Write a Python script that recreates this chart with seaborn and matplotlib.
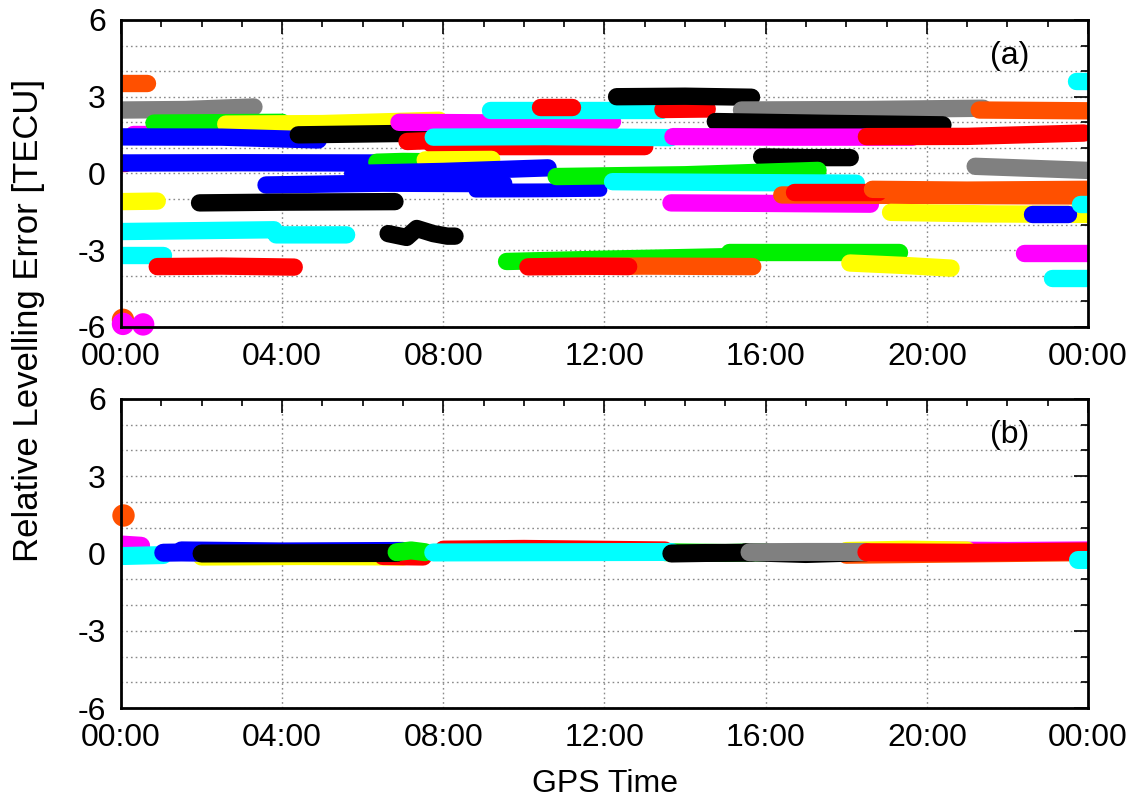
import matplotlib
matplotlib.use("Agg")
import matplotlib.pyplot as plt
import numpy as np
import pandas as pd
import seaborn as sns
from matplotlib.ticker import MultipleLocator, FuncFormatter

# ---------------- data ----------------
# colour names of the satellite arcs, panel (a)
a_sat = ['orange', 'gray', 'magenta', 'green', 'yellow', 'blue', 'black',
         'red', 'magenta', 'cyan', 'cyan', 'red', 'red', 'blue', 'green',
         'yellow', 'blue', 'blue', 'yellow', 'black', 'cyan', 'cyan', 'red',
         'black', 'green', 'green', 'orange', 'red', 'yellow', 'magenta',
         'cyan', 'black', 'red', 'gray', 'orange', 'black', 'magenta', 'red',
         'black', 'gray', 'green', 'cyan', 'magenta', 'orange', 'red',
         'orange', 'yellow', 'blue', 'cyan', 'cyan']
# time [h] of each arc
a_time = [[0.0, 0.65], [0.0, 1.6, 3.3], [0.3, 4.5], [0.82, 4.0], [2.6, 5.0, 7.9],
          [0.0, 2.5, 4.9], [4.4, 7.75], [7.1, 7.6, 7.8, 13.0], [6.9, 10.0, 12.2],
          [7.75, 10.5, 13.65], [9.15, 13.4], [13.45, 14.55], [0.0, 0.1],
          [0.0, 3.0, 6.35], [6.35, 7.0, 7.55], [7.55, 9.2], [5.75, 8.0, 10.6],
          [3.6, 6.5, 9.5], [0.0, 0.9], [1.95, 4.0, 6.8], [0.0, 3.8, 3.85, 5.6],
          [0.0, 1.05], [0.9, 2.5, 4.3], [6.63, 7.09, 7.34, 7.75, 8.1, 8.29],
          [9.57, 12.0, 15.1], [15.1, 17.0, 19.3], [10.5, 13.0, 15.68],
          [10.1, 11.5, 12.6], [18.09, 19.5, 20.6], [22.4, 24.0], [23.1, 24.0],
          [12.3, 14.0, 15.65], [10.4, 11.2], [15.4, 18.5, 21.4], [21.3, 24.0],
          [14.75, 17.5, 20.4], [13.7, 16.5, 19.65], [18.5, 21.0, 23.9],
          [15.9, 17.0, 18.1], [21.2, 24.0], [10.8, 14.0, 17.3],
          [12.2, 15.0, 18.25], [13.65, 16.0, 18.6], [16.4, 20.0, 24.0],
          [16.7, 18.8], [18.65, 21.0, 24.0], [19.1, 21.5, 24.0], [22.6, 23.5],
          [23.7, 24.0], [23.8, 24.0]]
# relative levelling error [TECU] of each arc
a_tecu = [[3.55, 3.55], [2.48, 2.5, 2.6], [1.55, 1.55], [1.97, 2.0], [1.93, 1.95, 2.08],
          [1.43, 1.42, 1.31], [1.51, 1.58], [1.25, 1.28, 1.05, 1.05], [2.0, 1.97, 2.03],
          [1.42, 1.44, 1.4], [2.48, 2.48], [2.5, 2.52], [0.42, 0.42],
          [0.41, 0.42, 0.41], [0.44, 0.47, 0.46], [0.53, 0.55], [0.0, 0.08, 0.22],
          [-0.45, -0.38, -0.4], [-1.1, -1.08], [-1.15, -1.12, -1.1],
          [-2.27, -2.2, -2.4, -2.4], [-3.18, -3.18], [-3.64, -3.62, -3.66],
          [-2.35, -2.5, -2.15, -2.35, -2.45, -2.45], [-3.44, -3.35, -3.25],
          [-3.05, -3.05, -3.05], [-3.64, -3.62, -3.64], [-3.65, -3.62, -3.64],
          [-3.5, -3.6, -3.7], [-3.1, -3.1], [-4.08, -4.08], [3.0, 3.02, 2.98],
          [2.6, 2.6], [2.48, 2.5, 2.55], [2.48, 2.45], [2.03, 1.96, 1.9],
          [1.44, 1.42, 1.42], [1.44, 1.45, 1.58], [0.65, 0.62, 0.62],
          [0.28, 0.12], [-0.12, -0.05, 0.12], [-0.32, -0.35, -0.38],
          [-1.15, -1.17, -1.2], [-0.84, -0.86, -0.88], [-0.72, -0.72],
          [-0.62, -0.65, -0.62], [-1.52, -1.58, -1.6], [-1.6, -1.6],
          [3.6, 3.6], [-1.2, -1.2]]
a_late_blue_time = [8.8, 10.5, 11.9]
a_late_blue_tecu = [-0.67, -0.66, -0.64]
# isolated epochs, panel (a)
a_dot_sat = ['orange', 'magenta', 'magenta']
a_dot_time = [0.05, 0.05, 0.55]
a_dot_tecu = [-5.72, -5.88, -5.9]

# panel (b): the same arcs after levelling
b_sat = ['magenta', 'yellow', 'blue', 'red', 'orange', 'magenta', 'green',
         'black', 'yellow', 'red', 'cyan', 'blue', 'black', 'green', 'cyan',
         'black', 'gray', 'red', 'cyan']
b_time = [[0.0, 0.5], [2.0, 4.5, 7.0], [1.5, 4.0, 7.0], [8.0, 10.0, 13.5],
          [18.0, 21.0, 24.0], [20.0, 22.0, 24.0], [13.5, 15.0, 16.0],
          [15.5, 17.0, 18.5], [18.0, 19.5, 21.0], [6.5, 7.5], [0.0, 0.5, 1.05],
          [1.05, 1.5, 2.1], [2.0, 4.0, 6.84], [6.84, 7.2, 7.55], [7.75, 10.5, 13.66],
          [13.66, 14.5, 15.65], [15.6, 17.0, 18.5], [18.5, 21.0, 23.96],
          [23.75, 24.0]]
b_tecu = [[0.35, 0.3], [-0.12, -0.1, -0.12], [0.12, 0.08, 0.1], [0.15, 0.18, 0.12],
          [-0.05, 0.0, 0.05], [0.12, 0.1, 0.12], [0.05, 0.02, 0.05],
          [0.05, -0.02, 0.05], [0.1, 0.15, 0.12], [-0.1, -0.12],
          [-0.1, -0.08, -0.06], [0.03, 0.04, 0.03], [0.0, 0.01, 0.02],
          [0.05, 0.12, 0.05], [0.04, 0.05, 0.06], [0.0, 0.02, 0.03],
          [0.05, 0.06, 0.06], [0.05, 0.03, 0.08], [-0.25, -0.25]]
b_dot_sat = ['orange']
b_dot_time = [0.05]
b_dot_tecu = [1.5]

xticks_h = [0, 4, 8, 12, 16, 20, 24]
yticks = [-6, -3, 0, 3, 6]

COLORS = {'red': '#ff0000', 'green': '#00f000', 'blue': '#0000ff',
          'magenta': '#ff00ff', 'cyan': '#00ffff', 'yellow': '#ffff00',
          'orange': '#ff5000', 'gray': '#808080', 'black': '#000000'}

# ---------------- style ----------------
sns.set_theme(style="white")
plt.rcParams['font.family'] = ['Liberation Sans', 'DejaVu Sans']
plt.rcParams['text.color'] = 'black'
plt.rcParams['axes.labelcolor'] = 'black'
FS = 23

fig = plt.figure(figsize=(11.37, 8.02), dpi=100)
ax1 = fig.add_axes([0.1064, 0.5923, 0.8505, 0.3828])
ax2 = fig.add_axes([0.1064, 0.1172, 0.8505, 0.3853])


def draw_arcs(ax, sats, times, tecus, lw=12.5):
    rows = []
    keys = []
    pal = {}
    for i, (s, t, v) in enumerate(zip(sats, times, tecus)):
        k = f"s{i:03d}"
        keys.append(k)
        pal[k] = COLORS[s]
        for tt, vv in zip(t, v):
            rows.append((k, tt, vv))
    df = pd.DataFrame(rows, columns=['arc', 't', 'v'])
    sns.lineplot(data=df, x='t', y='v', hue='arc', hue_order=keys, palette=pal,
                 estimator=None, sort=False, legend=False, linewidth=lw,
                 solid_capstyle='round', solid_joinstyle='round', ax=ax)


def draw_dots(ax, sats, times, tecus):
    df = pd.DataFrame({'t': times, 'v': tecus, 'sat': sats})
    sns.scatterplot(data=df, x='t', y='v', hue='sat',
                    palette={s: COLORS[s] for s in set(sats)},
                    s=260, linewidth=0, legend=False, ax=ax, clip_on=False,
                    zorder=3)


# panel (a)
draw_arcs(ax1, a_sat[:17], a_time[:17], a_tecu[:17])
draw_arcs(ax1, ['blue'], [a_late_blue_time], [a_late_blue_tecu], lw=10)
draw_arcs(ax1, a_sat[17:], a_time[17:], a_tecu[17:])
draw_dots(ax1, a_dot_sat, a_dot_time, a_dot_tecu)

# panel (b)
draw_arcs(ax2, b_sat, b_time, b_tecu, lw=13)
draw_dots(ax2, b_dot_sat, b_dot_time, b_dot_tecu)

for ax, lab in [(ax1, '(a)'), (ax2, '(b)')]:
    ax.set_xlim(0, 24)
    ax.set_ylim(-6, 6)
    ax.set_xticks(xticks_h)
    ax.set_yticks(yticks)
    ax.xaxis.set_minor_locator(MultipleLocator(1))
    ax.yaxis.set_minor_locator(MultipleLocator(1))
    ax.xaxis.set_major_formatter(FuncFormatter(lambda h, p: f"{int(round(h)) % 24:02d}:00"))
    ax.yaxis.set_major_formatter(FuncFormatter(lambda v, p: f"{int(v)}"))
    ax.set_xlabel('')
    ax.set_ylabel('')
    ax.grid(False)
    gkw = dict(color='#8a8a8a', linestyle=(0, (1.2, 2.2)), linewidth=1.0)
    ax.grid(True, which='major', axis='x', **gkw)
    ax.grid(True, which='both', axis='y', **gkw)
    ax.set_axisbelow(True)
    ax.tick_params(which='both', direction='in', top=True, right=True,
                   colors='black', labelsize=FS)
    ax.tick_params(which='major', length=10, width=1.2)
    ax.tick_params(which='minor', length=5, width=1.2)
    ax.tick_params(axis='x', which='major', pad=11)
    ax.tick_params(axis='y', which='major', pad=11)
    for sp in ax.spines.values():
        sp.set_visible(True)
        sp.set_color('black')
        sp.set_linewidth(2.0)
        sp.set_zorder(5)
    ax.text(0.919, 0.882, lab, transform=ax.transAxes, ha='center', va='center',
            fontsize=FS, color='black')

fig.text(0.025, 0.6, 'Relative Levelling Error [TECU]', rotation=90,
         ha='center', va='center', fontsize=FS + 2, color='black')
fig.text(0.5317, 0.022, 'GPS Time', ha='center', va='center', fontsize=FS,
         color='black')

fig.savefig('out.png', dpi=100, facecolor='white')
